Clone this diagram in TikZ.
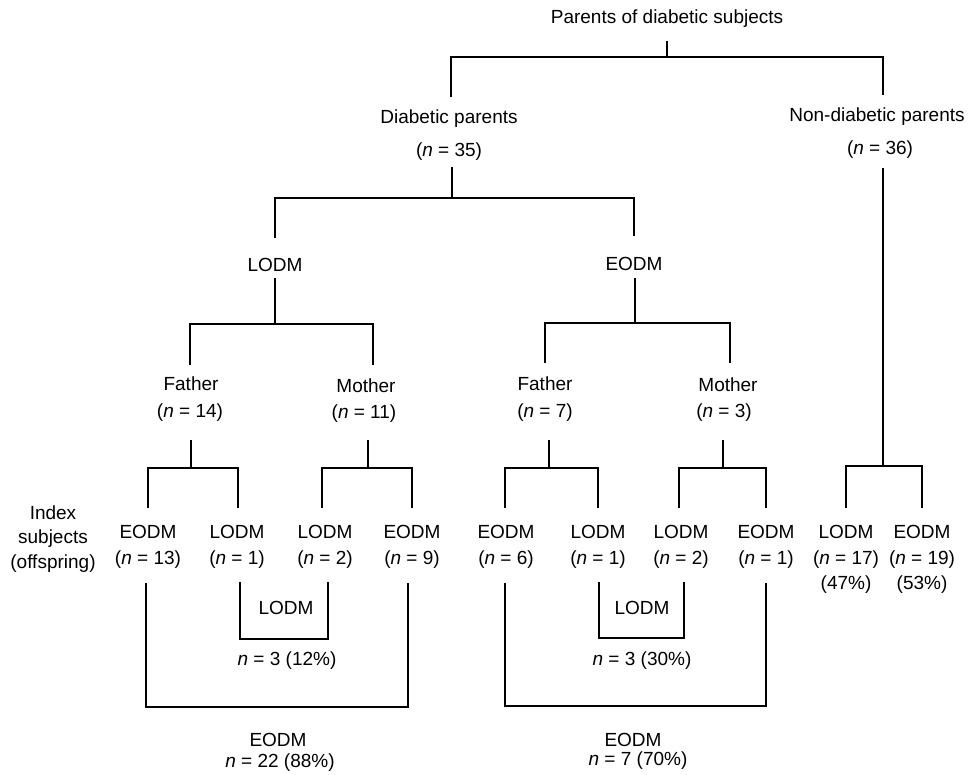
\documentclass[tikz,border=0pt]{standalone}
\usepackage{fontspec}
\setmainfont{Liberation Sans}
\begin{document}
\begin{tikzpicture}[x=1pt,y=-1pt,
  lbl/.style={inner sep=0pt, font=\fontsize{19}{22}\selectfont},
  link/.style={line width=2pt, line join=miter}]
\useasboundingbox[fill=white] (0,0) rectangle (968,775);
\newcommand{\nn}{\textit{n}}
% --- text nodes ---
\node[lbl] (title) at (667,19) {Parents of diabetic subjects};
\node[lbl] (dpa) at (449,119) {Diabetic parents};
\node[lbl] (dpb) at (449,152) {(\nn{} = 35)};
\node[lbl] (ndpa) at (877,117) {Non-diabetic parents};
\node[lbl] (ndpb) at (880,150) {(\nn{} = 36)};
\node[lbl] (lodm) at (275,265) {LODM};
\node[lbl] (eodm) at (634,264) {EODM};
\node[lbl] (fa1) at (191,384) {Father};
\node[lbl] (fb1) at (190,413) {(\nn{} = 14)};
\node[lbl] (ma1) at (366,386) {Mother};
\node[lbl] (mb1) at (364,414) {(\nn{} = 11)};
\node[lbl] (fa2) at (545,384) {Father};
\node[lbl] (fb2) at (545,413) {(\nn{} = 7)};
\node[lbl] (ma2) at (728,385) {Mother};
\node[lbl] (mb2) at (724,413) {(\nn{} = 3)};
\node[lbl] (idx1) at (53,513) {Index};
\node[lbl] (idx2) at (53,539) {subjects};
\node[lbl] (idx3) at (53,564) {(offspring)};
\node[lbl] (o1a) at (148,532) {EODM};  \node[lbl] (o1b) at (148,560) {(\nn{} = 13)};
\node[lbl] (o2a) at (237,532) {LODM};  \node[lbl] (o2b) at (237,560) {(\nn{} = 1)};
\node[lbl] (o3a) at (325,532) {LODM};  \node[lbl] (o3b) at (325,560) {(\nn{} = 2)};
\node[lbl] (o4a) at (412,532) {EODM};  \node[lbl] (o4b) at (412,560) {(\nn{} = 9)};
\node[lbl] (o5a) at (506,532) {EODM};  \node[lbl] (o5b) at (506,560) {(\nn{} = 6)};
\node[lbl] (o6a) at (598,532) {LODM};  \node[lbl] (o6b) at (598,560) {(\nn{} = 1)};
\node[lbl] (o7a) at (681,532) {LODM};  \node[lbl] (o7b) at (681,560) {(\nn{} = 2)};
\node[lbl] (o8a) at (766,532) {EODM};  \node[lbl] (o8b) at (766,560) {(\nn{} = 1)};
\node[lbl] (o9a) at (846,532) {LODM};  \node[lbl] (o9b) at (846,560) {(\nn{} = 17)};
\node[lbl] (o9c) at (846,585) {(47\%)};
\node[lbl] (o10a) at (922,532) {EODM}; \node[lbl] (o10b) at (922,560) {(\nn{} = 19)};
\node[lbl] (o10c) at (922,585) {(53\%)};
\node[lbl] (in1) at (286,608) {LODM};
\node[lbl] (in1n) at (287,661) {\nn{} = 3 (12\%)};
\node[lbl] (in2) at (642,608) {LODM};
\node[lbl] (in2n) at (642,661) {\nn{} = 3 (30\%)};
\node[lbl] (bt1) at (278,740) {EODM};
\node[lbl] (bt1n) at (280,763) {\nn{} = 22 (88\%)};
\node[lbl] (bt2) at (633,740) {EODM};
\node[lbl] (bt2n) at (638,761) {\nn{} = 7 (70\%)};
% --- connector points ---
\coordinate (tS) at (667,41);  \coordinate (tJ) at (667,57);
\coordinate (dpT) at (451,97); \coordinate (ndT) at (883,95);
\coordinate (dpS) at (452,167); \coordinate (dpJ) at (452,198);
\coordinate (loT) at (275,238); \coordinate (eoT) at (634,236);
\coordinate (ndS) at (883,168); \coordinate (ndJ) at (883,466);
\coordinate (o9T) at (846,508); \coordinate (o10T) at (922,508);
\coordinate (loS) at (275,278); \coordinate (loJ) at (275,324);
\coordinate (fa1T) at (190,365); \coordinate (ma1T) at (373,365);
\coordinate (eoS) at (635,278); \coordinate (eoJ) at (635,323);
\coordinate (fa2T) at (545,363); \coordinate (ma2T) at (730,363);
\coordinate (f1S) at (191,440); \coordinate (f1J) at (191,468);
\coordinate (o1T) at (148,508); \coordinate (o2T) at (238,508);
\coordinate (m1S) at (368,440); \coordinate (m1J) at (368,468);
\coordinate (o3T) at (322,508); \coordinate (o4T) at (412,508);
\coordinate (f2S) at (549,440); \coordinate (f2J) at (549,468);
\coordinate (o5T) at (505,508); \coordinate (o6T) at (598,508);
\coordinate (m2S) at (723,440); \coordinate (m2J) at (723,468);
\coordinate (o7T) at (679,508); \coordinate (o8T) at (766,508);
\coordinate (o1B) at (146,583); \coordinate (o4B) at (408,583); \coordinate (e1J) at (146,707);
\coordinate (o2B) at (240,582); \coordinate (o3B) at (328,582); \coordinate (l1J) at (240,639);
\coordinate (o5B) at (505,583); \coordinate (o8B) at (766,583); \coordinate (e2J) at (505,706);
\coordinate (o6B) at (599,582); \coordinate (o7B) at (684,582); \coordinate (l2J) at (599,638);
% --- connectors ---
\draw[link] (tS) -- (tJ);
\draw[link] (dpT) |- (tJ) -| (ndT);
\draw[link] (dpS) -- (dpJ);
\draw[link] (loT) |- (dpJ) -| (eoT);
\draw[link] (ndS) -- (ndJ);
\draw[link] (o9T) |- (ndJ) -| (o10T);
\draw[link] (loS) -- (loJ);
\draw[link] (fa1T) |- (loJ) -| (ma1T);
\draw[link] (eoS) -- (eoJ);
\draw[link] (fa2T) |- (eoJ) -| (ma2T);
\draw[link] (f1S) -- (f1J);
\draw[link] (o1T) |- (f1J) -| (o2T);
\draw[link] (m1S) -- (m1J);
\draw[link] (o3T) |- (m1J) -| (o4T);
\draw[link] (f2S) -- (f2J);
\draw[link] (o5T) |- (f2J) -| (o6T);
\draw[link] (m2S) -- (m2J);
\draw[link] (o7T) |- (m2J) -| (o8T);
\draw[link] (o1B) -- (e1J) -| (o4B);
\draw[link] (o2B) -- (l1J) -| (o3B);
\draw[link] (o5B) -- (e2J) -| (o8B);
\draw[link] (o6B) -- (l2J) -| (o7B);
\end{tikzpicture}
\end{document}
